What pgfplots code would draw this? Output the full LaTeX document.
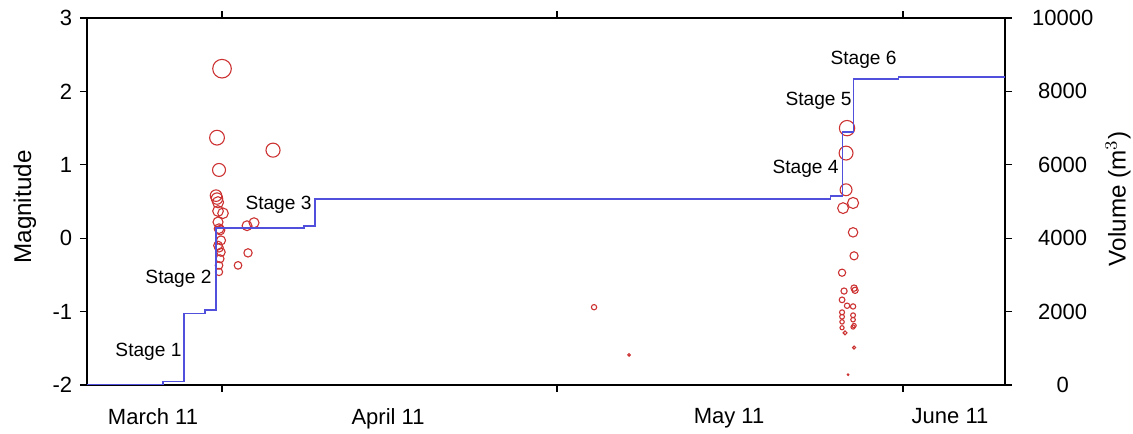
\documentclass[border=0pt]{standalone}
\usepackage{pgfplots}
\pgfplotsset{compat=1.18}
\usepackage{fontspec}
\setmainfont{Liberation Sans}
\definecolor{circred}{RGB}{205,50,50}
\definecolor{volblue}{RGB}{80,80,220}
\begin{document}
\begin{tikzpicture}
\pgfplotsset{
  myax/.style={
    scale only axis, width=417.3pt, height=166.8pt,
    at={(39.55pt,22.27pt)}, anchor=south west,
    xmin=0, xmax=918,
    tick align=outside, major tick length=3.2pt,
    axis line style={line width=0.7pt}, tick style={line width=0.6pt, black},
    /pgf/number format/assume math mode=true,
    /pgf/number format/1000 sep={},
    ticklabel style={font=\fontsize{10}{12}\selectfont},
    label style={font=\fontsize{11}{13}\selectfont},
  }
}
\begin{axis}[myax,
  ymin=-2, ymax=3, ytick={-2,-1,0,1,2,3},
  ytick pos=left,
  xtick={135,470,816}, xticklabels={}, xtick pos=both,
  extra x ticks={66,301,642,863},
  extra x tick labels={March 11,April 11,May 11,June 11},
  extra x tick style={major tick length=0pt, tick label style={yshift=-7pt}},
  ylabel={Magnitude},
  ylabel style={at={(axis description cs:-0.0676,0.485)}, anchor=center},
  clip=false,
]
\addplot[scatter, only marks, mark=o,
  scatter/use mapped color={draw=circred, fill=none},
  visualization depends on={max(0.35,(1.3+2.05*(\thisrow{m}+1.6))/2.2) \as \msize},
  scatter/@pre marker code/.append style={/tikz/mark size=\msize},
  mark options={line width=0.5pt}]
table[x=x,y=m]{
x m
135 2.31
130 1.37
186 1.20
132 0.93
129 0.58
130 0.54
131 0.49
136 0.34
131 0.37
131 0.22
132 0.13
133 0.11
134 -0.03
131 -0.10
132 -0.13
134 -0.19
133 -0.28
132 -0.37
132 -0.46
160 0.17
167 0.21
161 -0.20
151 -0.37
507 -0.94
542 -1.59
760 1.50
759 1.16
759 0.66
756 0.41
766 0.48
766 0.08
767 -0.24
755 -0.47
767 -0.68
768 -0.71
757 -0.72
755 -0.84
760 -0.92
766 -0.93
755 -1.01
766 -1.05
755 -1.07
755 -1.14
766 -1.11
767 -1.19
766 -1.21
755 -1.22
758 -1.29
767 -1.49
761 -1.86
};
\begin{scope}[font=\fontsize{8.7}{10}\selectfont]
\node[anchor=east, inner sep=0.5pt] at (axis cs:96,-1.55) {Stage 1};
\node[anchor=east, inner sep=0.5pt] at (axis cs:126,-0.556) {Stage 2};
\node[anchor=east, inner sep=0.5pt] at (axis cs:226,0.452) {Stage 3};
\node[anchor=east, inner sep=0.5pt] at (axis cs:753,0.943) {Stage 4};
\node[anchor=east, inner sep=0.5pt] at (axis cs:766,1.869) {Stage 5};
\node[anchor=east, inner sep=0.5pt] at (axis cs:811,2.43) {Stage 6};
\end{scope}
\end{axis}
\begin{axis}[myax,
  ymin=0, ymax=10000, ytick={0,2000,4000,6000,8000,10000},
  scaled y ticks=false,
  axis y line*=right, axis x line=none,
  yticklabel style={anchor=center, xshift=23pt},
  ylabel={Volume (m$^3$)},
  ylabel style={at={(axis description cs:1.123,0.507)}, anchor=center},
]
\addplot[const plot, volblue, line width=0.5pt] coordinates {
(0,0) (76,0) (76,100) (97,100) (97,1960) (118,1960) (118,2044) (129,2044)
(129,4278) (217,4278) (217,4332) (228,4332) (228,5068) (743,5068) (743,5150)
(755,5150) (755,6894) (766,6894) (766,8338) (811,8338) (811,8392) (918,8392)
};
\end{axis}
\pgfresetboundingbox
\path[use as bounding box] (0,0) rectangle (515pt,197.27pt);
\end{tikzpicture}
\end{document}
